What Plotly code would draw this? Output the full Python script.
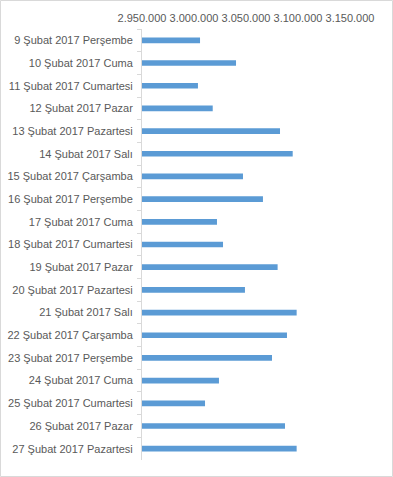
import plotly.graph_objects as go

categories = [
    "9 Şubat 2017 Perşembe", "10 Şubat 2017 Cuma", "11 Şubat 2017 Cumartesi",
    "12 Şubat 2017 Pazar", "13 Şubat 2017 Pazartesi", "14 Şubat 2017 Salı",
    "15 Şubat 2017 Çarşamba", "16 Şubat 2017 Perşembe", "17 Şubat 2017 Cuma",
    "18 Şubat 2017 Cumartesi", "19 Şubat 2017 Pazar", "20 Şubat 2017 Pazartesi",
    "21 Şubat 2017 Salı", "22 Şubat 2017 Çarşamba", "23 Şubat 2017 Perşembe",
    "24 Şubat 2017 Cuma", "25 Şubat 2017 Cumartesi", "26 Şubat 2017 Pazar",
    "27 Şubat 2017 Pazartesi",
]
values = [
    3005800, 3040400, 3003800, 3018000, 3082700, 3094900, 3047100,
    3066300, 3022100, 3027900, 3080400, 3049000, 3098700, 3089400,
    3075000, 3024000, 3010600, 3087500, 3098700,
]
tick_vals = [2950000, 3000000, 3050000, 3100000, 3150000]
tick_text = ["2.950.000", "3.000.000", "3.050.000", "3.100.000", "3.150.000"]

W, H = 393, 477
ml, mr, mt, mb = 142, 43, 29, 17
pw, ph = W - ml - mr, H - mt - mb

fig = go.Figure(go.Bar(
    x=values, y=categories, orientation="h",
    marker=dict(color="#5b9bd5", line=dict(width=0)),
))

fig.update_layout(
    width=W, height=H,
    margin=dict(l=ml, r=mr, t=mt, b=mb, autoexpand=False),
    paper_bgcolor="white", plot_bgcolor="white",
    separators=",.",
    bargap=0.75,
    showlegend=False,
    font=dict(family="Liberation Sans, Arial, sans-serif", size=11, color="#595959"),
    xaxis=dict(
        side="top", range=[2950000, 3150000], automargin=False,
        tickvals=tick_vals, ticktext=tick_text,
        showgrid=False, zeroline=False, showline=False,
        ticks="", tickfont=dict(size=11, color="#595959"),
        ticklabelstandoff=4,
    ),
    yaxis=dict(
        autorange="reversed", showgrid=False, zeroline=False, automargin=False,
        showline=True, linecolor="#d9d9d9", linewidth=1,
        ticks="outside", ticklen=4, tickcolor="#d9d9d9", tickson="boundaries",
        tickfont=dict(size=11, color="#595959"),
        ticklabelstandoff=6,
    ),
    shapes=[dict(
        type="rect", xref="paper", yref="paper",
        x0=(0.5 - ml) / pw, x1=(W - 0.5 - ml) / pw,
        y0=(0.5 - mb) / ph, y1=(H - 0.5 - mb) / ph,
        line=dict(color="#d9d9d9", width=1), fillcolor="rgba(0,0,0,0)",
        layer="above",
    )],
)

fig.write_html(
    "out.html",
    config={"displayModeBar": False},
    post_script="document.body.style.margin='0';document.body.style.overflow='hidden';",
)
